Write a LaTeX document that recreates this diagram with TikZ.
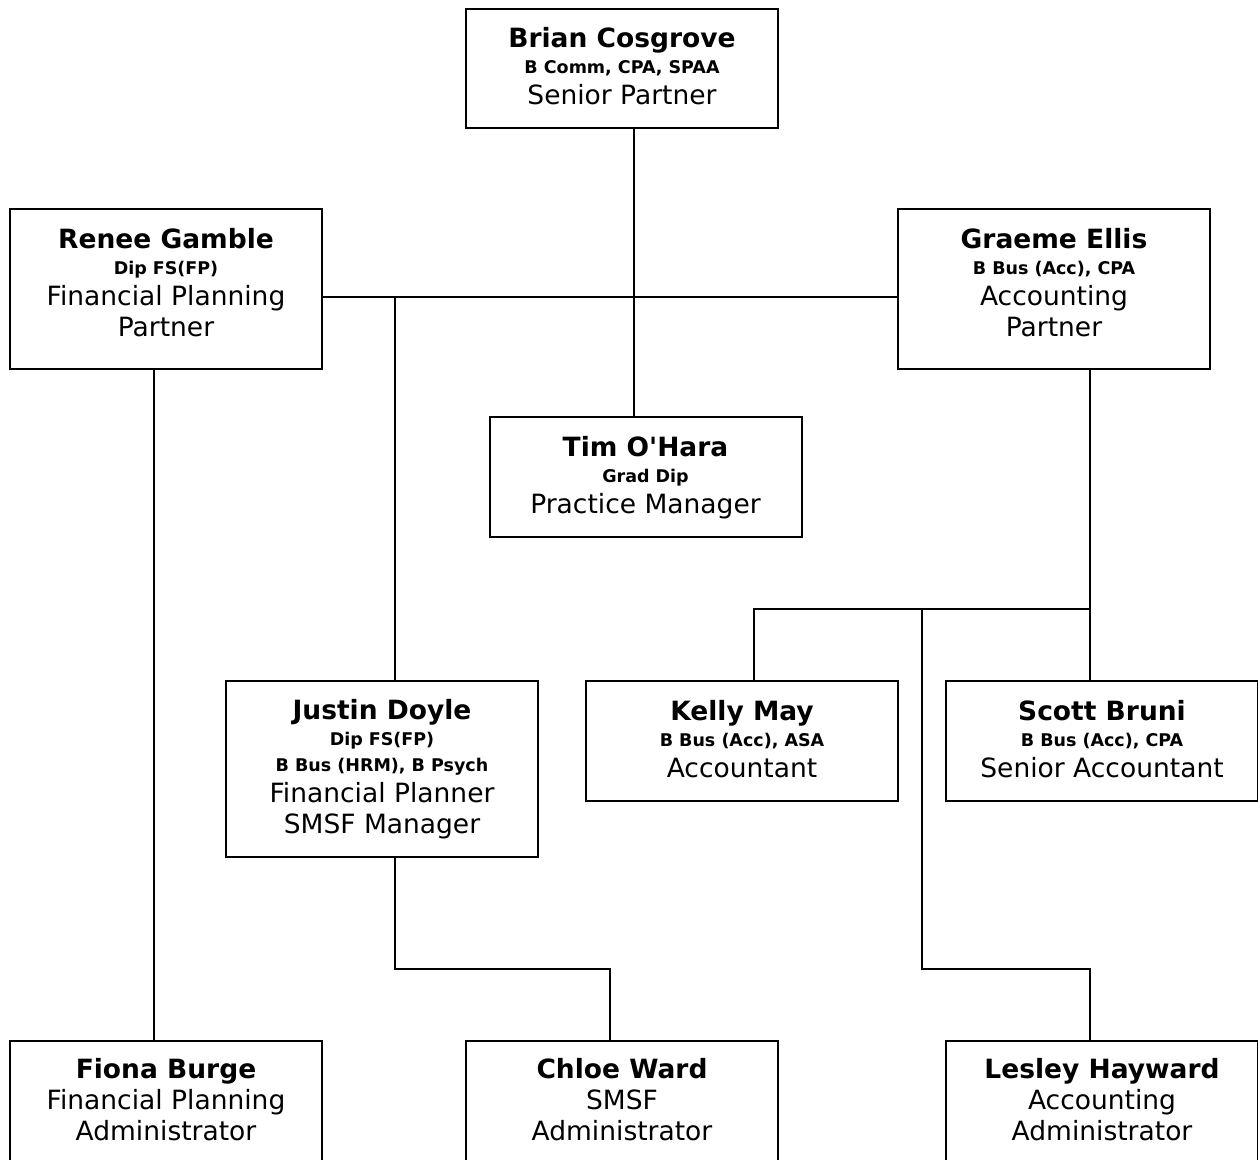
\documentclass[tikz,border=0pt]{standalone}
\usepackage{fontspec}
\setmainfont{DejaVu Sans}
\begin{document}
\begin{tikzpicture}[x=1pt,y=-1pt,
  box/.style={draw,line width=2pt,rectangle,inner sep=0pt,minimum width=312pt,text width=312pt,align=flush center,
    font=\fontsize{26.5}{0}\selectfont,
    execute at begin node={\lineskip=0pt\lineskiplimit=0pt}},
  wire/.style={line width=2pt}]
\useasboundingbox (0,0) rectangle (1258,1159);
\clip (0,0) rectangle (1258,1159);
\newcommand{\nm}[1]{\rule[-7pt]{0pt}{29pt}\textbf{#1}}
\newcommand{\ql}[1]{\rule[-7pt]{0pt}{26pt}{\fontsize{17.5}{0}\selectfont\textbf{#1}}}
\newcommand{\tl}[1]{\rule[-7pt]{0pt}{31pt}#1}
\newcommand{\tlb}[1]{\rule[-15pt]{0pt}{39pt}#1}
\node[box,minimum height=119pt] (brian) at (622,68.5) {\nm{Brian Cosgrove}\\\ql{B Comm, CPA, SPAA}\\\tl{Senior Partner}};
\node[box,minimum height=160pt] (renee) at (166,289) {\nm{Renee Gamble}\\\ql{Dip FS(FP)}\\\tl{Financial Planning}\\\tlb{Partner}};
\node[box,minimum height=160pt] (graeme) at (1054,289) {\nm{Graeme Ellis}\\\ql{B Bus (Acc), CPA}\\\tl{Accounting}\\\tlb{Partner}};
\node[box,minimum height=120pt] (tim) at (645.5,477) {\nm{Tim O\textquotesingle Hara}\\\ql{Grad Dip}\\\tl{Practice Manager}};
\node[box,minimum height=176pt] (justin) at (382,769) {\nm{Justin Doyle}\\\ql{Dip FS(FP)}\\\ql{B Bus (HRM), B Psych}\\\tl{Financial Planner}\\\tl{SMSF Manager}};
\node[box,minimum height=120pt] (kelly) at (742,741) {\nm{Kelly May}\\\ql{B Bus (Acc), ASA}\\\tl{Accountant}};
\node[box,minimum height=120pt] (scott) at (1102,741) {\nm{Scott Bruni}\\\ql{B Bus (Acc), CPA}\\\tl{Senior Accountant}};
\node[box,minimum height=122pt] (fiona) at (166,1102) {\nm{Fiona Burge}\\\tl{Financial Planning}\\\tl{Administrator}};
\node[box,minimum height=122pt] (chloe) at (622,1102) {\nm{Chloe Ward}\\\tl{SMSF}\\\tl{Administrator}};
\node[box,minimum height=122pt] (lesley) at (1102,1102) {\nm{Lesley Hayward}\\\tl{Accounting}\\\tl{Administrator}};
\coordinate (jt) at (395,297);
\coordinate (gb) at (1090,609);
\coordinate (kb) at (754,609);
\coordinate (lb) at (922,609);
\coordinate (lm) at (922,969);
\coordinate (cm) at (395,969);
\coordinate (lt) at ([xshift=-12pt]lesley.north);
\coordinate (ct) at ([xshift=-12pt]chloe.north);
\draw[wire] ([xshift=12pt]brian.south) -- ([xshift=12pt]brian.south |- tim.north);
\draw[wire] ([yshift=-8pt]renee.east) -- ([yshift=-8pt]renee.east -| graeme.west);
\draw[wire] (jt) -- (jt |- justin.north);
\draw[wire] ([xshift=-12pt]renee.south) -- ([xshift=-12pt]fiona.north);
\draw[wire] (gb |- graeme.south) -- (gb) -- (kb) -- (kb |- kelly.north);
\draw[wire] (gb) -- (gb |- scott.north);
\draw[wire] (lb) -- (lm) -- (lm -| lt) -- (lt);
\draw[wire] (cm |- justin.south) -- (cm) -- (cm -| ct) -- (ct);
\end{tikzpicture}
\end{document}
